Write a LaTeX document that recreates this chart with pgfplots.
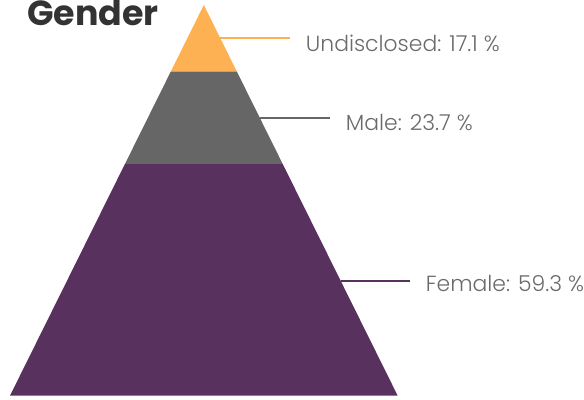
\documentclass[border=0pt]{standalone}
\usepackage{pgfplots}
\pgfplotsset{compat=1.18}
\usepackage{fontspec}
\setmainfont{Poppins}
\newfontfamily\lightfont{Poppins Light}
\definecolor{cOrange}{HTML}{FDB152}
\definecolor{cGrey}{HTML}{666666}
\definecolor{cPurple}{HTML}{58315E}
\definecolor{cText}{HTML}{6A6A6A}
\definecolor{cTitle}{HTML}{333333}
\begin{document}
\begin{tikzpicture}
\begin{axis}[
  width=584bp, height=400bp, scale only axis,
  xmin=0, xmax=584, ymin=0, ymax=400, y dir=reverse,
  axis lines=none, clip=false,
]
% Female 59.3 %
\addplot[fill=cPurple, draw=none] coordinates {(10,396) (398,396) (282.94,164.1) (125.06,164.1)} -- cycle;
% Male 23.7 %
\addplot[fill=cGrey, draw=none] coordinates {(125.06,164.1) (282.94,164.1) (236.94,71.4) (171.06,71.4)} -- cycle;
% Undisclosed 17.1 %
\addplot[fill=cOrange, draw=none] coordinates {(171.06,71.4) (236.94,71.4) (204,5)} -- cycle;
% leader lines
\addplot[cOrange, line width=1.6bp] coordinates {(220,38) (290,38)};
\addplot[cGrey, line width=1.6bp] coordinates {(260,118) (330,118)};
\addplot[cPurple, line width=1.6bp] coordinates {(341,281) (410,281)};
\addplot[draw=none] coordinates {(0,0) (584,400)};
\node[anchor=base west, text=cText, font=\lightfont\fontsize{22}{26}\selectfont, inner sep=0pt] at (axis cs:306,51.5) {Undisclosed: 17.1 \%};
\node[anchor=base west, text=cText, font=\lightfont\fontsize{22}{26}\selectfont, inner sep=0pt] at (axis cs:346,131) {Male: 23.7 \%};
\node[anchor=base west, text=cText, font=\lightfont\fontsize{22}{26}\selectfont, inner sep=0pt] at (axis cs:426,292) {Female: 59.3 \%};
\node[anchor=base west, text=cTitle, font=\bfseries\fontsize{35}{40}\selectfont, inner sep=0pt] at (axis cs:27,26) {Gender};
\end{axis}
\end{tikzpicture}
\end{document}
